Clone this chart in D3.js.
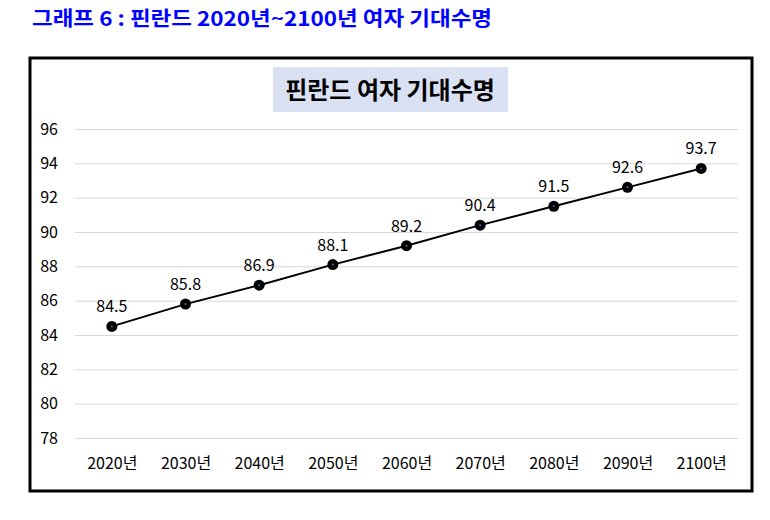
<!DOCTYPE html>
<html>
<head>
<meta charset="utf-8">
<script src="https://cdn.jsdelivr.net/npm/d3@7.9.0/dist/d3.min.js"></script>
<style>
  body { margin: 0; background: #fff; }
  svg { display: block; font-family: "Noto Sans CJK KR", "Noto Sans", sans-serif; }
</style>
</head>
<body>
<div id="chart"></div>
<script>
// chart data
const years = ["2020년", "2030년", "2040년", "2050년", "2060년", "2070년", "2080년", "2090년", "2100년"];
const lifeExp = [84.5, 85.8, 86.9, 88.1, 89.2, 90.4, 91.5, 92.6, 93.7];
const yTicks = [78, 80, 82, 84, 86, 88, 90, 92, 94, 96];

const width = 770;
const height = 520;

// plot area
const area = { left: 75, right: 738, top: 129, bottom: 438 };

const svg = d3.select("#chart")
  .append("svg")
  .attr("width", width)
  .attr("height", height);

// page heading
svg.append("text")
  .attr("x", 32)
  .attr("y", 26)
  .attr("fill", "#0000ff")
  .attr("font-size", 20)
  .attr("font-weight", "bold")
  .attr("textLength", 460)
  .attr("lengthAdjust", "spacingAndGlyphs")
  .text("그래프 6 : 핀란드 2020년~2100년 여자 기대수명");

// frame
svg.append("rect")
  .attr("x", 30)
  .attr("y", 58)
  .attr("width", 722)
  .attr("height", 433)
  .attr("fill", "#fff")
  .attr("stroke", "#000")
  .attr("stroke-width", 3);

// chart title box
svg.append("rect")
  .attr("x", 273)
  .attr("y", 67)
  .attr("width", 235)
  .attr("height", 45)
  .attr("fill", "#d9e1f2");

svg.append("text")
  .attr("x", 390)
  .attr("y", 99)
  .attr("text-anchor", "middle")
  .attr("font-size", 24)
  .attr("font-weight", "bold")
  .attr("fill", "#000")
  .text("핀란드 여자 기대수명");

const x = d3.scalePoint()
  .domain(years)
  .range([area.left, area.right])
  .padding(0.5);

const y = d3.scaleLinear()
  .domain([78, 96])
  .range([area.bottom, area.top]);

// gridlines
svg.append("g")
  .attr("transform", `translate(${area.left},0)`)
  .call(d3.axisLeft(y).tickValues(yTicks).tickFormat("").tickSize(-(area.right - area.left)))
  .call(g => g.select(".domain").remove())
  .call(g => g.selectAll("line").attr("stroke", "#d9d9d9"));

// y labels
svg.append("g")
  .attr("transform", `translate(58,0)`)
  .call(d3.axisLeft(y).tickValues(yTicks).tickSize(0).tickPadding(0))
  .call(g => g.select(".domain").remove())
  .call(g => g.selectAll("text")
    .attr("font-size", 16)
    .attr("fill", "#000")
    .attr("font-family", "\"Noto Sans CJK KR\", sans-serif"));

// x labels
svg.append("g")
  .attr("transform", `translate(0,${area.bottom})`)
  .call(d3.axisBottom(x).tickSize(0).tickPadding(20))
  .call(g => g.select(".domain").remove())
  .call(g => g.selectAll("text")
    .attr("font-size", 16)
    .attr("fill", "#000")
    .attr("font-family", "\"Noto Sans CJK KR\", sans-serif"));

const points = years.map((yr, i) => ({ yr, v: lifeExp[i] }));

// line
svg.append("path")
  .datum(points)
  .attr("fill", "none")
  .attr("stroke", "#000")
  .attr("stroke-width", 2)
  .attr("d", d3.line().x(d => x(d.yr)).y(d => y(d.v)));

// markers
const dots = svg.append("g")
  .selectAll("g")
  .data(points)
  .join("g")
  .attr("transform", d => `translate(${x(d.yr)},${y(d.v)})`);

dots.append("circle")
  .attr("r", 5.5)
  .attr("fill", "#000");

dots.append("circle")
  .attr("r", 1)
  .attr("fill", "#4472c4");

// data labels
svg.append("g")
  .selectAll("text")
  .data(points)
  .join("text")
  .attr("x", d => x(d.yr))
  .attr("y", d => y(d.v) - 14)
  .attr("text-anchor", "middle")
  .attr("font-size", 16)
  .attr("fill", "#000")
  .text(d => d3.format(".1f")(d.v));
</script>
</body>
</html>
